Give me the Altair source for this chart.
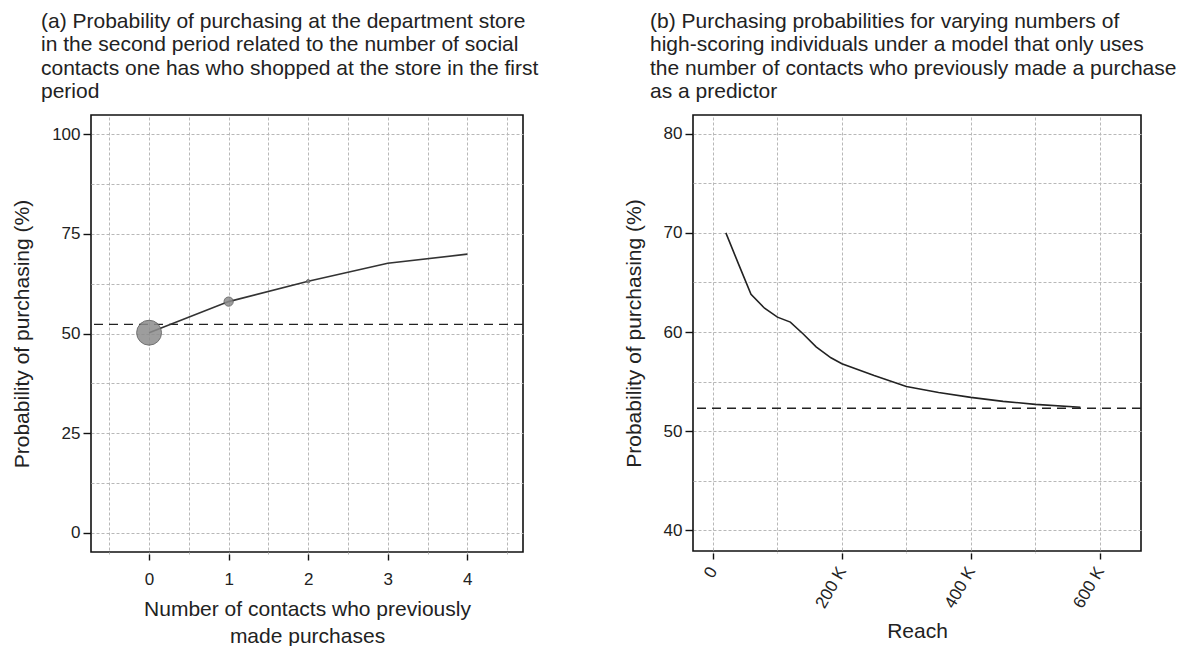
import altair as alt
import pandas as pd

# ---- Panel (a) data ----
contacts = [0, 1, 2, 3, 4]
prob_a = [50.2, 58.0, 63.1, 67.6, 69.9]
point_size = [620, 85, 12, 0, 0]
baseline = [52.3]

# ---- Panel (b) data ----
reach = [20000, 40000, 59000, 80000, 100000, 120000, 140000, 160000, 183000,
         200000, 250000, 300000, 350000, 400000, 450000, 500000, 570000]
prob_b = [70.0, 66.8, 63.8, 62.4, 61.5, 61.0, 59.8, 58.5, 57.4,
          56.8, 55.6, 54.5, 53.9, 53.4, 53.0, 52.7, 52.4]

title_a = ["(a) Probability of purchasing at the department store",
           "in the second period related to the number of social",
           "contacts one has who shopped at the store in the first",
           "period"]
title_b = ["(b) Purchasing probabilities for varying numbers of",
           "high-scoring individuals under a model that only uses",
           "the number of contacts who previously made a purchase",
           "as a predictor"]

FONT = "Liberation Sans"
TXT = "#222222"
GRID = dict(grid=True, gridColor="#b8b8b8", gridDash=[3, 2], gridWidth=1)

df_a = pd.DataFrame({"contacts": contacts, "prob": prob_a, "size": point_size})
df_b = pd.DataFrame({"reach": reach, "prob": prob_b})
df_base = pd.DataFrame({"base": baseline})

xa_vals = [v / 2 for v in range(-1, 10)]
ya_vals = [v * 12.5 for v in range(0, 9)]

xa = alt.X("contacts:Q",
           scale=alt.Scale(domain=[-0.73, 4.70], nice=False, zero=False),
           axis=alt.Axis(values=xa_vals,
                         labelExpr="datum.value % 1 == 0 ? '' + datum.value : ''",
                         tickOpacity={"condition": {"test": "datum.value % 1 === 0", "value": 1}, "value": 0},
                         title=["Number of contacts who previously", "made purchases"],
                         **GRID))
ya = alt.Y("prob:Q",
           scale=alt.Scale(domain=[-4.8, 104.8], nice=False, zero=False),
           axis=alt.Axis(values=ya_vals,
                         labelExpr="datum.value % 25 == 0 ? datum.label : ''",
                         tickOpacity={"condition": {"test": "datum.value % 25 === 0", "value": 1}, "value": 0},
                         title="Probability of purchasing (%)", **GRID))

line_a = alt.Chart(df_a).mark_line(color="#333333", strokeWidth=1.6).encode(x=xa, y=ya)
pts_a = alt.Chart(df_a).mark_circle(color="#8c8c8c", opacity=0.85, stroke="#5a5a5a", strokeWidth=1).encode(
    x=xa, y=ya,
    size=alt.Size("size:Q", scale=alt.Scale(domain=[0, 620], range=[0, 620]), legend=None))
base_a = alt.Chart(df_base).mark_rule(color="#222222", strokeDash=[9, 6], strokeWidth=1.4).encode(
    y=alt.Y("base:Q"))

TITLE_STYLE = dict(anchor="start", frame="group", offset=13, fontSize=21,
                   lineHeight=23.3, font=FONT, fontWeight="normal", color=TXT)

panel_a = alt.layer(base_a, line_a, pts_a).properties(
    width=432, height=437,
    title=alt.TitleParams(text=title_a, dx=-50, **TITLE_STYLE))

xb_vals = [v * 100000 for v in range(0, 7)]
yb_vals = [40 + 5 * v for v in range(0, 9)]

xb = alt.X("reach:Q",
           scale=alt.Scale(domain=[-31000, 664000], nice=False, zero=False),
           axis=alt.Axis(values=xb_vals,
                         labelExpr="datum.value % 200000 == 0 ? (datum.value == 0 ? '0' : (datum.value / 1000) + ' K') : ''",
                         tickOpacity={"condition": {"test": "datum.value % 200000 === 0", "value": 1}, "value": 0},
                         labelAngle=300, labelAlign="right", labelBaseline="middle",
                         labelPadding=9, titlePadding=10, title="Reach", **GRID))
yb = alt.Y("prob:Q",
           scale=alt.Scale(domain=[37.9, 81.9], nice=False, zero=False),
           axis=alt.Axis(values=yb_vals,
                         labelExpr="datum.value % 10 == 0 ? datum.label : ''",
                         tickOpacity={"condition": {"test": "datum.value % 10 === 0", "value": 1}, "value": 0},
                         title="Probability of purchasing (%)", **GRID))

line_b = alt.Chart(df_b).mark_line(color="#222222", strokeWidth=1.6).encode(x=xb, y=yb)
base_b = alt.Chart(df_base).mark_rule(color="#222222", strokeDash=[9, 6], strokeWidth=1.4).encode(
    y=alt.Y("base:Q"))

panel_b = alt.layer(base_b, line_b).properties(
    width=448, height=436,
    title=alt.TitleParams(text=title_b, dx=-43, **TITLE_STYLE))

chart = alt.hconcat(panel_a, panel_b, spacing=82).properties(
    padding={"left": 2, "top": 2, "right": 2, "bottom": 0}
).configure_view(
    stroke="#111111", strokeWidth=1.6
).configure_axis(
    domain=False, tickColor="#111111", tickWidth=1.4,
    labelFont=FONT, labelFontSize=17, labelColor=TXT,
    titleFont=FONT, titleFontSize=21, titleFontWeight="normal", titleColor=TXT
).configure_axisX(
    tickSize=6, offset=2, labelPadding=11, titlePadding=11, titleLineHeight=27
).configure_axisY(
    tickSize=8, labelPadding=3, titlePadding=19
)

chart.save("out.html", embed_options={"renderer": "svg", "actions": False})
